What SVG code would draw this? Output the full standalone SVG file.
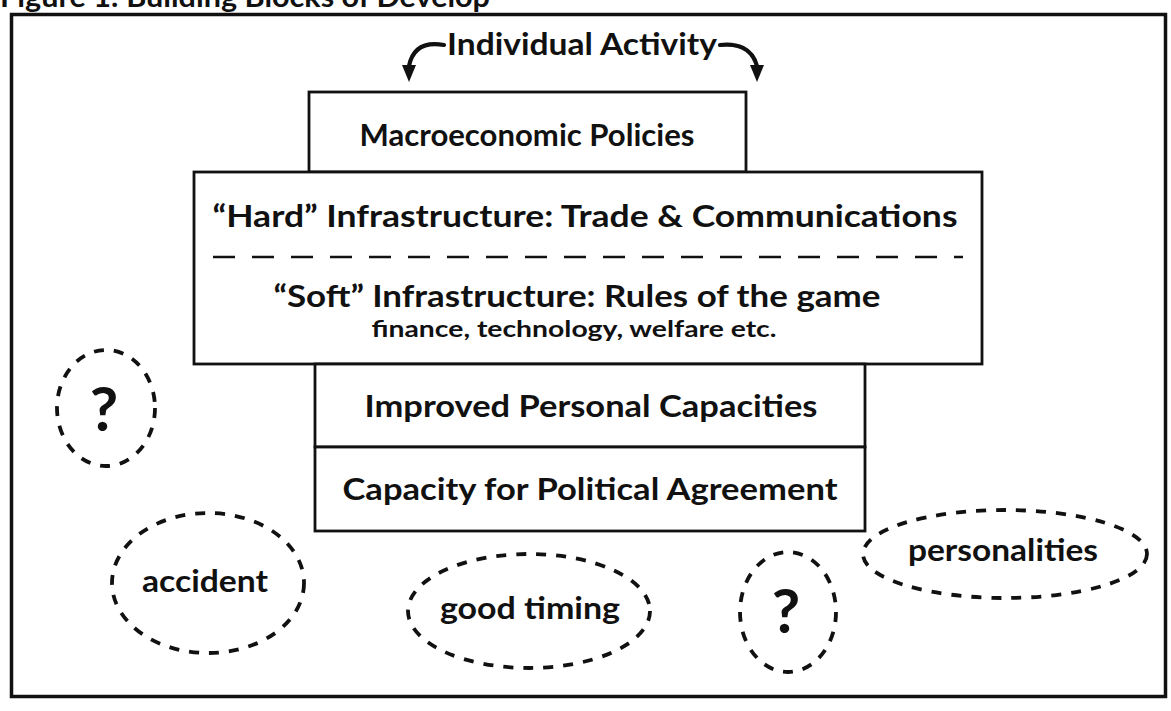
<svg xmlns="http://www.w3.org/2000/svg" width="1171" height="711" viewBox="0 0 1171 711">
  <style>
    .lbl { font-family: Lato, "Liberation Sans", "DejaVu Sans", sans-serif; font-weight: bold; fill: #111; text-anchor: middle; }
    .box { fill: #fff; stroke: #111; stroke-width: 2.8; }
    .blob { fill: none; stroke: #111; stroke-width: 3.8; stroke-dasharray: 10 10; }
    .curve { fill: none; stroke: #111; stroke-width: 4.2; stroke-linecap: round; }
    .head { fill: #111; }
  </style>
  <rect width="1171" height="711" fill="#fff"/>

  <!-- caption, running off the top of the page -->
  <text x="0" y="7" font-family="Lato, 'Liberation Sans', sans-serif" font-weight="bold" font-size="28" fill="#111" textLength="490" lengthAdjust="spacingAndGlyphs">Figure 1: Building Blocks of Develop</text>

  <!-- frame -->
  <rect x="11.5" y="14.5" width="1154" height="682" fill="none" stroke="#111" stroke-width="3.5"/>

  <g id="connectors">
    <path class="curve" d="M444 45 C427 42 413 46 409 66"/>
    <polygon class="head" points="402,65 416,65 409,82"/>
    <path class="curve" d="M720 45 C737 43 752 48 757 66"/>
    <polygon class="head" points="750,65 764,65 757,82"/>
  </g>

  <g id="individual-activity">
    <text class="lbl" x="582" y="55" font-size="30" textLength="270" lengthAdjust="spacingAndGlyphs">Individual Activity</text>
  </g>

  <g id="macro">
    <rect class="box" x="309" y="92" width="437" height="80"/>
    <text class="lbl" x="527" y="146" font-size="30" textLength="335" lengthAdjust="spacingAndGlyphs">Macroeconomic Policies</text>
  </g>

  <g id="infrastructure">
    <rect class="box" x="194" y="172" width="788" height="192"/>
    <text class="lbl" x="585" y="227" font-size="30" textLength="745" lengthAdjust="spacingAndGlyphs">“Hard” Infrastructure: Trade &amp; Communications</text>
    <line x1="213" y1="257" x2="963" y2="257" stroke="#111" stroke-width="2.4" stroke-dasharray="22 17"/>
    <text class="lbl" x="577" y="307" font-size="30" textLength="607" lengthAdjust="spacingAndGlyphs">“Soft” Infrastructure: Rules of the game</text>
    <text class="lbl" x="574" y="337" font-size="22" textLength="405" lengthAdjust="spacingAndGlyphs">finance, technology, welfare etc.</text>
  </g>

  <g id="personal">
    <rect class="box" x="315" y="364" width="550" height="83"/>
    <text class="lbl" x="591" y="417" font-size="30" textLength="453" lengthAdjust="spacingAndGlyphs">Improved Personal Capacities</text>
  </g>

  <g id="political">
    <rect class="box" x="315" y="447" width="550" height="84"/>
    <text class="lbl" x="590" y="500" font-size="30" textLength="495" lengthAdjust="spacingAndGlyphs">Capacity for Political Agreement</text>
  </g>

  <g id="unknown-left">
    <ellipse class="blob" cx="106" cy="408" rx="49" ry="58"/>
    <text class="lbl" x="104" y="431" font-size="62">?</text>
  </g>

  <g id="accident">
    <ellipse class="blob" cx="208" cy="583" rx="96" ry="70"/>
    <text class="lbl" x="205" y="592" font-size="31" textLength="126" lengthAdjust="spacingAndGlyphs">accident</text>
  </g>

  <g id="good-timing">
    <ellipse class="blob" cx="529" cy="611" rx="121" ry="57"/>
    <text class="lbl" x="530" y="619" font-size="31" textLength="180" lengthAdjust="spacingAndGlyphs">good timing</text>
  </g>

  <g id="unknown-right">
    <ellipse class="blob" cx="788" cy="612" rx="48" ry="60"/>
    <text class="lbl" x="786" y="633" font-size="62">?</text>
  </g>

  <g id="personalities">
    <ellipse class="blob" cx="1005" cy="554" rx="142" ry="44"/>
    <text class="lbl" x="1003" y="561" font-size="31" textLength="190" lengthAdjust="spacingAndGlyphs">personalities</text>
  </g>
</svg>
